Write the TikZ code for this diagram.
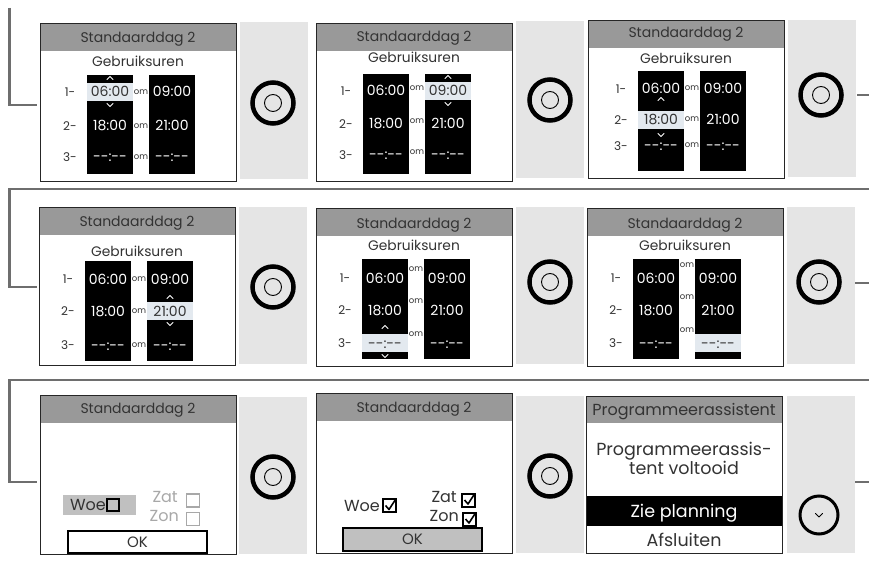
\documentclass[tikz,border=0pt]{standalone}
\usepackage{fontspec}
\setmainfont{Poppins}
\usetikzlibrary{calc}
\definecolor{conngray}{HTML}{6E6E6E}
\definecolor{hdrgray}{HTML}{999999}
\definecolor{btngray}{HTML}{E5E5E5}
\definecolor{hilite}{HTML}{E3E9EF}
\definecolor{woegray}{HTML}{C0C0C0}
\definecolor{txtdark}{HTML}{333333}
\definecolor{boxgray}{HTML}{A8A8A8}
\newcommand\fsz[1]{\fontsize{#1}{#1}\selectfont}
\tikzset{
  conn/.style={draw=conngray, line width=2.6pt},
  scrborder/.style={draw=black!85, line width=0.8pt},
  btnpanel/.style={fill=btngray, draw=none, minimum width=68, minimum height=157, anchor=north west, inner sep=0},
  txt/.style={inner sep=0, text depth=0pt},
  hdrtext/.style={txt, text=txtdark, font=\fsz{14}, text height=10},
  gebtext/.style={txt, text=txtdark, font=\fsz{13.8}, text height=10},
  ttext/.style={txt, text=white, font=\fsz{14}, text height=10},
  lbl/.style={txt, text=txtdark, font=\fsz{12}, text height=8.5},
  omtext/.style={txt, text=txtdark, font=\fsz{8.5}, text height=4.5},
  daytext/.style={txt, text=txtdark, font=\fsz{16}, text height=11.5},
  bigtext/.style={txt, text=txtdark, font=\fsz{17.5}, text height=12.5},
  knob/.style={circle, draw=black, line width=4.5pt, minimum size=41, inner sep=0},
  knobin/.style={circle, draw=black, line width=0.9pt, minimum size=17, inner sep=0},
  chev/.style={line width=0.8pt, line cap=round, line join=round},
  cb/.style={rectangle, draw=black, line width=2pt, minimum size=12, inner sep=0},
}
% highlighted cell selection
\def\hcol{1}\def\hrow{1}\def\harr{1}\def\aup{14}\def\adn{13}
\newcommand\tcell[6]{% #1 name, #2 x, #3 y, #4 text, #5 col, #6 row
  \ifnum\numexpr#5*10+#6\relax=\numexpr\hcol*10+\hrow\relax
    \fill[hilite] ({#2-23},{#3-9}) rectangle ({#2+23},{#3+9});
    \node[ttext, text=txtdark] (#1) at (#2,#3) {#4};
    \ifnum\harr=1
      \draw[chev, white] ({#2-3},{#3-\aup+1.5}) -- (#2,{#3-\aup-1.5}) -- ({#2+3},{#3-\aup+1.5});
      \draw[chev, white] ({#2-3},{#3+\adn-1.5}) -- (#2,{#3+\adn+1.5}) -- ({#2+3},{#3+\adn-1.5});
    \fi
  \else
    \node[ttext] (#1) at (#2,#3) {#4};
  \fi}
% #1 name, #2 left, #3 top, #4 header y, #5 geb y, #6 col1 x, #7 col top, #8 col bottom, #9 om dy
\newcommand\tscreen[9]{%
  \fill[white] (#2,#3) rectangle ++(196,158);
  \fill[hdrgray] (#2,#3) rectangle ++(196,28);
  \node[hdrtext] (#1h) at ({#2+98},#4) {Standaarddag 2};
  \node[gebtext] (#1g) at ({#2+98},#5) {Gebruiksuren};
  \fill[black] (#6,#7) rectangle ({#6+46},#8);
  \fill[black] ({#6+62},#7) rectangle ({#6+108},#8);
  \node[lbl] (#1l1) at ({#6-17},\ra) {1-};
  \node[lbl] (#1l2) at ({#6-17},\rb) {2-};
  \node[lbl] (#1l3) at ({#6-17},\rc) {3-};
  \node[omtext] (#1o1) at ({#6+54},{\ra+#9}) {om};
  \node[omtext] (#1o2) at ({#6+54},{\rb+#9}) {om};
  \node[omtext] (#1o3) at ({#6+54},{\rc+#9}) {om};
  \tcell{#1a1}{#6+23}{\ra}{06:00}{1}{1}
  \tcell{#1a2}{#6+23}{\rb}{18:00}{1}{2}
  \tcell{#1a3}{#6+23}{\rc}{-{}-:-{}-}{1}{3}
  \tcell{#1b1}{#6+85}{\ra}{09:00}{2}{1}
  \tcell{#1b2}{#6+85}{\rb}{21:00}{2}{2}
  \tcell{#1b3}{#6+85}{\rc}{-{}-:-{}-}{2}{3}
  \draw[scrborder] (#2,#3) rectangle ++(196,158);}
\newcommand\knobbtn[3]{% name, x, y
  \node[knob] (#1) at (#2,#3) {};
  \node[knobin] (#1i) at (#2,#3) {};}
\newcommand\checkmk[1]{%
  \draw[line width=1.6pt, line join=round] ([shift={(-4,0)}]#1.center) -- ([shift={(-0.5,4)}]#1.center) -- ([shift={(6,-6)}]#1.center);}
\begin{document}
\begin{tikzpicture}[x=1pt, y=-1pt]
\useasboundingbox (0,0) rectangle (869,561);
\fill[white] (0,0) rectangle (869,561);
% ---- connectors
\coordinate (l1top) at (9.5,8);
\coordinate (l1end) at (37,105);
\coordinate (r1a) at (857,95);
\coordinate (r1b) at (869,95);
\coordinate (h1a) at (869,189);
\coordinate (l2end) at (37,287);
\coordinate (r2a) at (855,283);
\coordinate (r2b) at (869,283);
\coordinate (h2a) at (869,380);
\coordinate (l3end) at (37,482);
\coordinate (r3a) at (855,482);
\coordinate (r3b) at (869,482);
\draw[conn] (l1top) |- (l1end);
\draw[conn] (r1a) -- (r1b);
\draw[conn] (h1a) -- (9.5,189) |- (l2end);
\draw[conn] (r2a) -- (r2b);
\draw[conn] (h2a) -- (9.5,380) |- (l3end);
\draw[conn] (r3a) -- (r3b);
% ---- button panels
\node[btnpanel] (p1) at (240,22) {};
\node[btnpanel] (p2) at (516,21) {};
\node[btnpanel] (p3) at (788,20) {};
\node[btnpanel] (p4) at (239,207) {};
\node[btnpanel] (p5) at (516,207) {};
\node[btnpanel] (p6) at (787,207) {};
\node[btnpanel] (p7) at (239,397) {};
\node[btnpanel] (p8) at (516,396) {};
\node[btnpanel] (p9) at (787,396) {};
\knobbtn{k1}{273}{103}
\knobbtn{k2}{550}{100}
\knobbtn{k3}{821}{95}
\knobbtn{k4}{273}{287}
\knobbtn{k5}{550}{282}
\knobbtn{k6}{819}{282}
\knobbtn{k7}{273}{477}
\knobbtn{k8}{550}{476}
\node[circle, draw=black, line width=3pt, minimum size=38, inner sep=0] (k9) at (819,515) {};
\draw[chev, black, line width=1pt] ([shift={(-3.5,-1.5)}]k9.center) -- ([shift={(0,2)}]k9.center) -- ([shift={(3.5,-1.5)}]k9.center);
% ---- time screens
\def\hcol{1}\def\hrow{1}\def\harr{1}\def\aup{14}\def\adn{13}
\def\ra{92}\def\rb{126}\def\rc{157}
\tscreen{s1}{40}{23}{38}{62}{87}{75}{174}{0}
\def\hcol{2}\def\hrow{1}
\def\ra{91}\def\rb{124}\def\rc{155}
\tscreen{s2}{316}{23}{37}{58}{363}{74}{174}{-3}
\def\hcol{1}\def\hrow{2}\def\aup{21}\def\adn{15}
\def\ra{89}\def\rb{120}\def\rc{146}
\tscreen{s3}{588}{20}{33}{59}{638}{71}{171}{-1}
\def\hcol{2}\def\hrow{2}\def\aup{14}\def\adn{13}
\def\ra{279}\def\rb{311}\def\rc{345}
\tscreen{s4}{39}{207}{221}{251}{85}{261}{361}{0}
\def\hcol{1}\def\hrow{3}\def\aup{16}\def\adn{13}
\def\ra{278}\def\rb{310}\def\rc{343}
\tscreen{s5}{316}{208}{224}{246}{362}{259}{359}{-9}
\def\hcol{2}\def\hrow{3}\def\harr{0}
\tscreen{s6}{587}{208}{224}{246}{633}{259}{359}{-13}
% ---- screen 7
\fill[white] (40,395) rectangle ++(196,159);
\fill[hdrgray] (40,395) rectangle ++(196,28);
\node[hdrtext] (s7h) at (138,408) {Standaarddag 2};
\fill[woegray] (63,495) rectangle (136,515);
\node[daytext, anchor=east] (s7w) at (106,505) {Woe};
\node[cb, line width=2.2pt] (s7wb) at (113,505) {};
\node[daytext, text=boxgray, anchor=east] (s7z) at (178,497) {Zat};
\node[cb, draw=boxgray, line width=1.6pt, minimum size=13] (s7zb) at (193,500.5) {};
\node[daytext, text=boxgray, anchor=east] (s7n) at (179,516) {Zon};
\node[cb, draw=boxgray, line width=1.6pt, minimum size=13] (s7nb) at (193,519) {};
\node[draw=black, fill=white, line width=2pt, minimum width=139, minimum height=22, inner sep=0, text=txtdark, font=\fsz{15}, text height=10.5, text depth=0pt] (s7ok) at (137.5,542) {OK};
\draw[scrborder] (40,395) rectangle ++(196,159);
% ---- screen 8
\fill[white] (316,393) rectangle ++(196,160);
\fill[hdrgray] (316,393) rectangle ++(196,28);
\node[hdrtext] (s8h) at (414,407) {Standaarddag 2};
\node[daytext, anchor=east] (s8w) at (380,506) {Woe};
\node[cb, minimum size=13] (s8wb) at (389.5,505.5) {};
\checkmk{s8wb}
\node[daytext, anchor=east] (s8z) at (457,496.5) {Zat};
\node[cb, minimum size=13] (s8zb) at (468.5,500) {};
\checkmk{s8zb}
\node[daytext, anchor=east] (s8n) at (459,515.5) {Zon};
\node[cb, minimum size=13] (s8nb) at (469.5,519) {};
\checkmk{s8nb}
\node[draw=black, fill=woegray, line width=1.4pt, minimum width=139, minimum height=23, inner sep=0, text=txtdark, font=\fsz{15}, text height=10.5, text depth=0pt] (s8ok) at (412.5,539.5) {OK};
\draw[scrborder] (316,393) rectangle ++(196,160);
% ---- screen 9
\fill[white] (586,396) rectangle ++(196,157);
\fill[hdrgray] (586,396) rectangle ++(196,27);
\node[bigtext, font=\fsz{16}, text height=11.5] (s9h) at (684,410) {Programmeerassistent};
\node[bigtext] (s9t1) at (684,449) {Programmeerassis-};
\node[bigtext] (s9t2) at (684,468) {tent voltooid};
\fill[black] (586,496) rectangle (782,526);
\node[bigtext, text=white] (s9z) at (684,511) {Zie planning};
\node[bigtext] (s9a) at (684,540) {Afsluiten};
\draw[scrborder] (586,396) rectangle ++(196,157);
\end{tikzpicture}
\end{document}
